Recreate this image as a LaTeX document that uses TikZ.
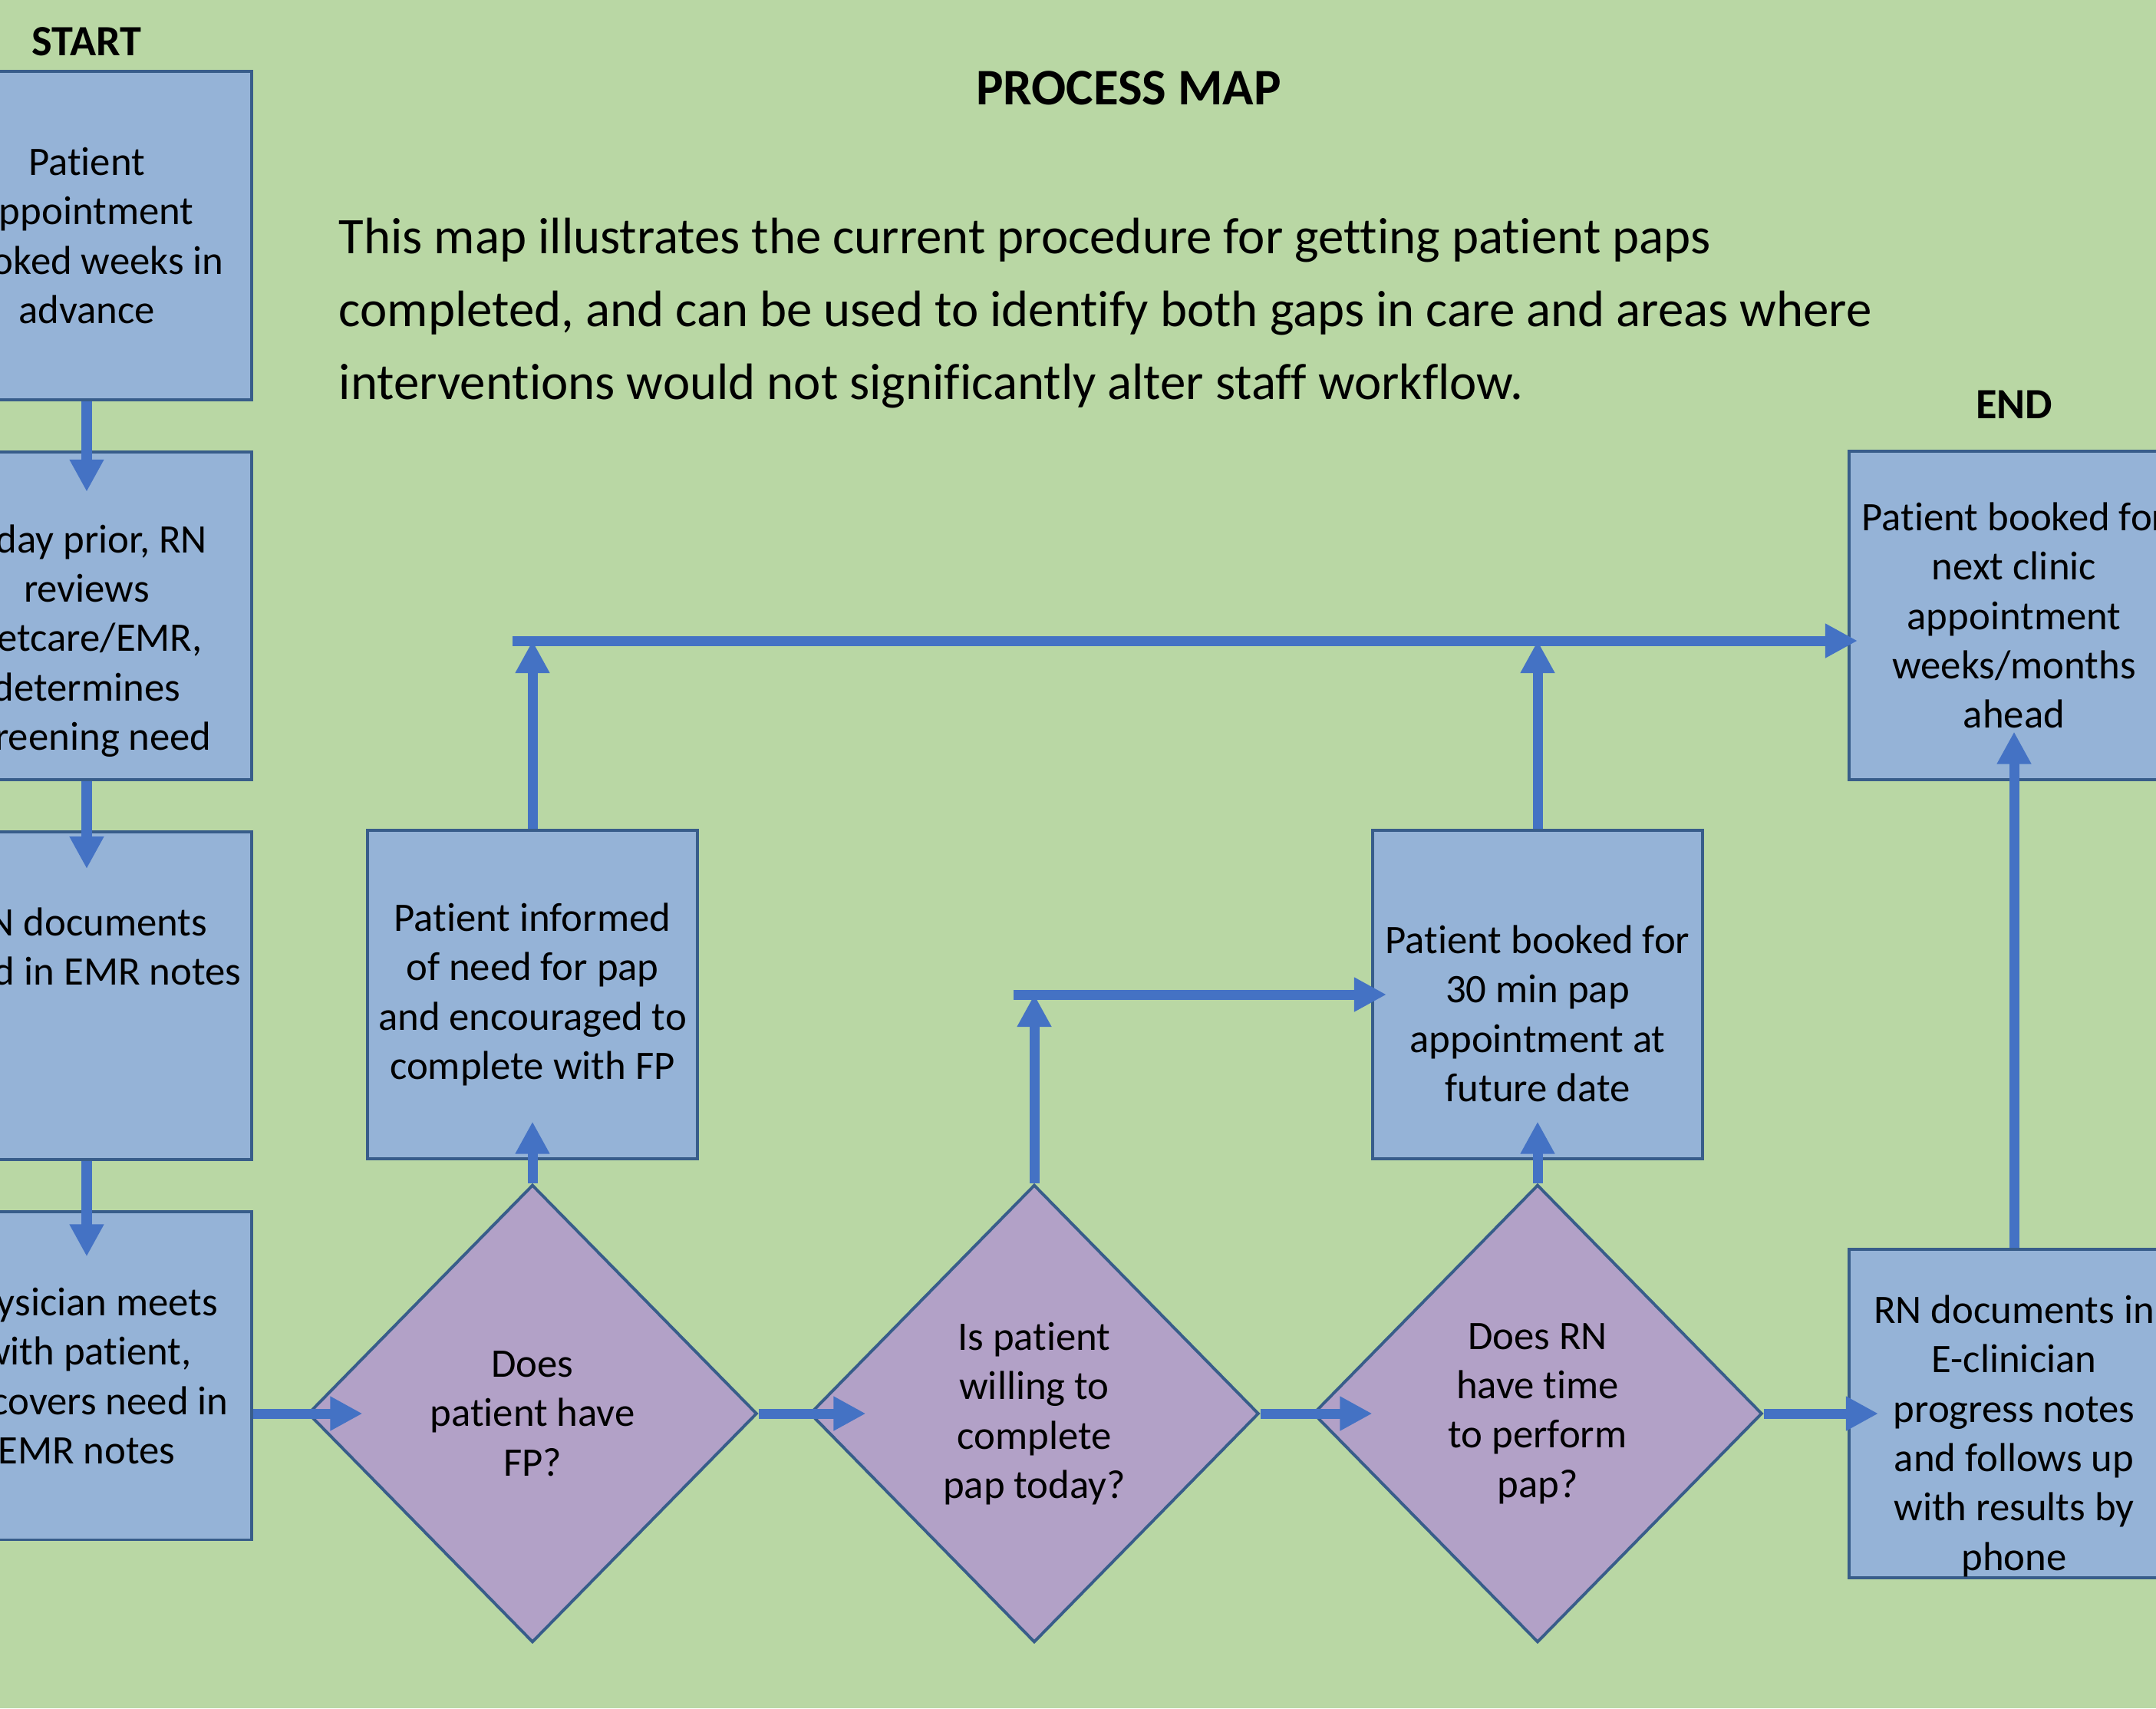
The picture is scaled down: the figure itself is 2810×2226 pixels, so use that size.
\documentclass[tikz,border=0pt]{standalone}
\usepackage{fontspec}
\setmainfont{Carlito}[Ligatures=CommonOff]
\usepackage{tikz}
\usetikzlibrary{shapes.geometric,arrows.meta,positioning}
\definecolor{mapgreen}{RGB}{185,215,164}
\definecolor{stepblue}{RGB}{149,179,215}
\definecolor{edgeblue}{RGB}{56,93,138}
\definecolor{askpurple}{RGB}{178,161,199}
\definecolor{flowblue}{RGB}{68,114,196}
% extra room above the first line of a box
\newcommand{\padtop}[1]{\rule{0pt}{#1}}

\begin{document}
\begin{tikzpicture}[
    x=0.01cm, y=-0.01cm,
    node distance=4.95cm,
    every node/.style={align=center, font=\fontsize{15}{18.3}\selectfont},
    proc/.style={rectangle, minimum width=4.3cm, minimum height=4.27cm, inner sep=0pt, draw=edgeblue, fill=stepblue, line width=1.1pt},
    ask/.style={diamond, aspect=1, minimum width=5.85cm, minimum height=5.96cm, inner sep=0pt, draw=edgeblue, fill=askpurple, line width=1.1pt},
    tag/.style={font=\fontsize{16}{19}\selectfont\bfseries},
    arrow/.style={draw=flowblue, line width=3.7pt, -{Triangle[length=0.42cm, width=0.42cm]}}
]

% Page
\useasboundingbox (0,0) rectangle (2810,2226);
\fill[mapgreen] (0,0) rectangle (2810,2226);

% Headings
\node[tag] (start) at (113,54) {START};
\node[tag] (end) at (2625,527) {END};
\node[font=\fontsize{19}{23}\selectfont\bfseries] (title) at (1471,115) {PROCESS MAP};
\node[font=\fontsize{19}{27}\selectfont, align=left, anchor=west, inner sep=0pt] (intro) at (441,408)
    {This map illustrates the current procedure for getting patient paps\\
     completed, and can be used to identify both gaps in care and areas where\\
     interventions would not significantly alter staff workflow.};

% Left column
\node[proc] (appt) at (113,307) {Patient\\appointment\\booked weeks in\\advance};
\node[proc, below of=appt] (review) {\padtop{29pt}1 day prior, RN\\reviews\\Netcare/EMR,\\determines\\screening need};
\node[proc, below of=review] (chart) {RN documents\\need in EMR notes\\~\\~};
\node[proc, below of=chart] (meet) {Physician meets\\with patient,\\discovers need in\\EMR notes};

% Decisions
\node[ask] (hasfp) at (694,1842) {Does\\patient have\\FP?};
\node[ask] (willing) at (1348,1842) {Is patient\\willing to\\complete\\pap today?};
\node[ask] (rntime) at (2004,1842) {Does RN\\have time\\to perform\\pap?};

% Outcomes
\node[proc] (inform) at (694,1296) {Patient informed\\of need for pap\\and encouraged to\\complete with FP};
\node[proc] (later) at (2004,1296) {\padtop{24.5pt}Patient booked for\\30 min pap\\appointment at\\future date};
\node[proc] (nextvisit) at (2625,802) {Patient booked for\\next clinic\\appointment\\weeks/months\\ahead};
\node[proc] (results) at (2625,1842) {\padtop{27pt}RN documents in\\E-clinician\\progress notes\\and follows up\\with results by\\phone};

% Bends
\coordinate (overtop) at (668,835);
\coordinate (overmid) at (1321,1296);

% Connections
\draw[arrow, shorten >=-0.54cm] (appt) -- (review);
\draw[arrow, shorten >=-0.5cm] (review) -- (chart);
\draw[arrow, shorten >=-0.6cm] (chart) -- (meet);
\draw[arrow, shorten >=-0.73cm] (meet.east |- hasfp) -- (hasfp);
\draw[arrow, shorten >=-0.75cm] (hasfp) -- (willing);
\draw[arrow, shorten >=-0.79cm] (willing) -- (rntime);
\draw[arrow, shorten >=-0.4cm] (rntime) -- (results);
\draw[arrow, shorten >=-0.5cm] (hasfp) -- (inform);
\draw[arrow, shorten >=-0.5cm] (rntime) -- (later);
\draw[arrow] (willing) -- (willing |- overmid);
\draw[arrow, shorten >=-0.2cm] (overmid) -- (later);
\draw[arrow] (inform) -- (inform |- overtop);
\draw[arrow] (later) -- (later |- overtop);
\draw[arrow, shorten >=-0.13cm] (overtop) -- (nextvisit.west |- overtop);
\draw[arrow, shorten >=-0.64cm] (results) -- (nextvisit);

\end{tikzpicture}
\end{document}
